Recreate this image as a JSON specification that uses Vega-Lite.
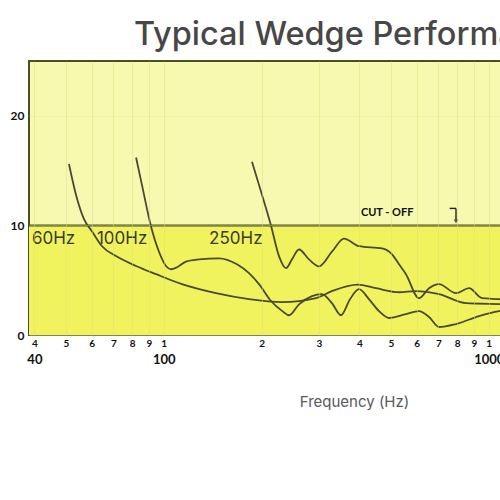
{
  "$schema": "https://vega.github.io/schema/vega-lite/v6.json",
  "title": {
    "text": "Typical Wedge Performance",
    "font": "Inter",
    "fontSize": 32.5,
    "fontWeight": 500,
    "color": "#474747",
    "frame": "group",
    "anchor": "middle",
    "offset": 10
  },
  "width": 650,
  "height": 274,
  "padding": {"left": 10, "top": 18, "right": 5, "bottom": 5},
  "background": "white",
  "view": {"fill": "#f6f9b0", "stroke": "#4b4f22", "strokeWidth": 2},
  "datasets": {
    "curves": [
      {"series": "60Hz", "freq": 51.1, "level": 15.6},
      {"series": "60Hz", "freq": 53.7, "level": 12.8},
      {"series": "60Hz", "freq": 56.8, "level": 10.6},
      {"series": "60Hz", "freq": 60.2, "level": 9.45},
      {"series": "60Hz", "freq": 64.6, "level": 8.1},
      {"series": "60Hz", "freq": 71.3, "level": 7.2},
      {"series": "60Hz", "freq": 82.2, "level": 6.3},
      {"series": "60Hz", "freq": 94.7, "level": 5.55},
      {"series": "60Hz", "freq": 113.8, "level": 4.64},
      {"series": "60Hz", "freq": 144.8, "level": 3.82},
      {"series": "60Hz", "freq": 183, "level": 3.27},
      {"series": "60Hz", "freq": 231, "level": 3.0},
      {"series": "60Hz", "freq": 294, "level": 3.36},
      {"series": "60Hz", "freq": 329, "level": 4.0},
      {"series": "60Hz", "freq": 395, "level": 4.6},
      {"series": "60Hz", "freq": 450, "level": 4.27},
      {"series": "60Hz", "freq": 530, "level": 3.9},
      {"series": "60Hz", "freq": 597, "level": 4.0},
      {"series": "60Hz", "freq": 703, "level": 3.73},
      {"series": "60Hz", "freq": 852, "level": 2.9},
      {"series": "60Hz", "freq": 1076, "level": 2.82},
      {"series": "60Hz", "freq": 1150, "level": 2.8},
      {"series": "100Hz", "freq": 82.2, "level": 16.2},
      {"series": "100Hz", "freq": 85.7, "level": 13.7},
      {"series": "100Hz", "freq": 91.4, "level": 9.9},
      {"series": "100Hz", "freq": 96.7, "level": 7.6},
      {"series": "100Hz", "freq": 101.6, "level": 6.3},
      {"series": "100Hz", "freq": 105.3, "level": 6.0},
      {"series": "100Hz", "freq": 109.9, "level": 6.18},
      {"series": "100Hz", "freq": 117.1, "level": 6.7},
      {"series": "100Hz", "freq": 128.4, "level": 6.9},
      {"series": "100Hz", "freq": 147.9, "level": 7.0},
      {"series": "100Hz", "freq": 168, "level": 6.45},
      {"series": "100Hz", "freq": 183, "level": 5.64},
      {"series": "100Hz", "freq": 196.4, "level": 4.64},
      {"series": "100Hz", "freq": 213.8, "level": 3.1},
      {"series": "100Hz", "freq": 231.2, "level": 2.2},
      {"series": "100Hz", "freq": 242.9, "level": 1.8},
      {"series": "100Hz", "freq": 260.8, "level": 2.8},
      {"series": "100Hz", "freq": 285.9, "level": 3.55},
      {"series": "100Hz", "freq": 306.8, "level": 3.73},
      {"series": "100Hz", "freq": 329.3, "level": 2.9},
      {"series": "100Hz", "freq": 351.1, "level": 1.8},
      {"series": "100Hz", "freq": 374.3, "level": 3.27},
      {"series": "100Hz", "freq": 398.9, "level": 4.18},
      {"series": "100Hz", "freq": 428, "level": 3.27},
      {"series": "100Hz", "freq": 459.6, "level": 2.18},
      {"series": "100Hz", "freq": 493.6, "level": 1.55},
      {"series": "100Hz", "freq": 556.3, "level": 1.9},
      {"series": "100Hz", "freq": 610.2, "level": 2.18},
      {"series": "100Hz", "freq": 655.3, "level": 1.64},
      {"series": "100Hz", "freq": 703, "level": 0.73},
      {"series": "100Hz", "freq": 793, "level": 1.0},
      {"series": "100Hz", "freq": 933.7, "level": 1.73},
      {"series": "100Hz", "freq": 1076, "level": 2.18},
      {"series": "100Hz", "freq": 1150, "level": 2.3},
      {"series": "250Hz", "freq": 186.9, "level": 15.8},
      {"series": "250Hz", "freq": 199.2, "level": 13.1},
      {"series": "250Hz", "freq": 213.8, "level": 10.0},
      {"series": "250Hz", "freq": 226.3, "level": 7.2},
      {"series": "250Hz", "freq": 237.8, "level": 6.1},
      {"series": "250Hz", "freq": 248.1, "level": 6.9},
      {"series": "250Hz", "freq": 260.8, "level": 7.8},
      {"series": "250Hz", "freq": 279.9, "level": 6.9},
      {"series": "250Hz", "freq": 300.4, "level": 6.27},
      {"series": "250Hz", "freq": 329.3, "level": 7.6},
      {"series": "250Hz", "freq": 358.7, "level": 8.8},
      {"series": "250Hz", "freq": 398.9, "level": 8.1},
      {"series": "250Hz", "freq": 469.7, "level": 7.9},
      {"series": "250Hz", "freq": 504.1, "level": 7.36},
      {"series": "250Hz", "freq": 529.7, "level": 6.45},
      {"series": "250Hz", "freq": 556.3, "level": 5.55},
      {"series": "250Hz", "freq": 610.2, "level": 3.36},
      {"series": "250Hz", "freq": 655.3, "level": 4.27},
      {"series": "250Hz", "freq": 703.1, "level": 4.64},
      {"series": "250Hz", "freq": 793.1, "level": 3.82},
      {"series": "250Hz", "freq": 869.8, "level": 4.27},
      {"series": "250Hz", "freq": 953.8, "level": 3.36},
      {"series": "250Hz", "freq": 1076, "level": 3.27},
      {"series": "250Hz", "freq": 1150, "level": 3.2}
    ],
    "labels": [
      {"text": "60Hz", "freq": 39.3, "level": 8.8},
      {"text": "100Hz", "freq": 62.3, "level": 8.8},
      {"text": "250Hz", "freq": 137.9, "level": 8.8}
    ],
    "arrow": [
      {"freq": 758, "freq2": 793, "level": 11.55, "level2": 11.55},
      {"freq": 793, "freq2": 793, "level": 11.55, "level2": 10.5}
    ]
  },
  "resolve": {"axis": {"x": "independent"}},
  "layer": [
    {
      "data": {"values": [{"lo": 0, "hi": 10}]},
      "mark": {"type": "rect", "color": "#f0f25e"},
      "encoding": {
        "y": {"field": "lo", "type": "quantitative", "scale": {"domain": [0, 25], "nice": false},
          "axis": {"values": [0, 10, 20], "title": null, "domain": false, "ticks": false, "tickSize": 0, "grid": true,
            "gridColor": "#e2e88e", "gridOpacity": 0.35,
            "labelFont": "Lato", "labelFontWeight": "bold", "labelFontSize": 12, "labelColor": "#111",
            "labelPadding": 5, "zindex": 1}},
        "y2": {"field": "hi"}
      }
    },
    {
      "data": {"name": "curves"},
      "mark": {"type": "line", "interpolate": "monotone", "color": "#4a4a32", "strokeWidth": 1.8},
      "encoding": {
        "x": {"field": "freq", "type": "quantitative",
          "scale": {"type": "log", "domain": [38.5, 3850], "nice": false},
          "axis": {"orient": "bottom", "title": null, "values": [40, 50, 60, 70, 80, 90, 100, 200, 300, 400, 500, 600, 700, 800, 900, 1000, 2000, 3000],
            "labelExpr": "substring(toString(datum.value), 0, 1)",
            "domain": false, "ticks": false, "tickSize": 0, "grid": true, "gridColor": "#d8e07a", "gridOpacity": 0.45,
            "labelFont": "Lato", "labelFontWeight": "bold", "labelFontSize": 10, "labelColor": "#111",
            "labelPadding": 3, "labelFlush": false, "labelOverlap": false, "zindex": 1}},
        "y": {"field": "level", "type": "quantitative"},
        "detail": {"field": "series"}
      }
    },
    {
      "data": {"values": [{"level": 10}]},
      "mark": {"type": "rule", "color": "#4b4f22", "strokeWidth": 2},
      "encoding": {"y": {"field": "level", "type": "quantitative"}}
    },
    {
      "data": {"name": "labels"},
      "mark": {"type": "text", "align": "left", "baseline": "middle", "font": "Inter", "fontSize": 17, "color": "#3b3b2c"},
      "encoding": {
        "x": {"field": "freq", "type": "quantitative", "axis": null},
        "y": {"field": "level", "type": "quantitative"},
        "text": {"field": "text"}
      }
    },
    {
      "data": {"values": [{"text": "CUT - OFF", "freq": 487, "level": 11.1}]},
      "mark": {"type": "text", "align": "center", "baseline": "middle", "font": "Lato", "fontWeight": "bold", "fontSize": 11, "color": "#111"},
      "encoding": {
        "x": {"field": "freq", "type": "quantitative", "axis": null},
        "y": {"field": "level", "type": "quantitative"},
        "text": {"field": "text"}
      }
    },
    {
      "data": {"values": [{"freq": 793, "level": 10.35}]},
      "mark": {"type": "point", "shape": "triangle-down", "filled": true, "size": 22, "color": "#222"},
      "encoding": {
        "x": {"field": "freq", "type": "quantitative", "axis": null},
        "y": {"field": "level", "type": "quantitative"}
      }
    },
    {
      "data": {"name": "arrow"},
      "mark": {"type": "rule", "color": "#222", "strokeWidth": 1.4},
      "encoding": {
        "x": {"field": "freq", "type": "quantitative",
          "axis": {"orient": "bottom", "title": "Frequency (Hz)", "values": [40, 100, 1000], "offset": 16,
            "labelExpr": "toString(datum.value)", "domain": false, "ticks": false, "tickSize": 0, "grid": false,
            "labelFont": "Lato", "labelFontWeight": "bold", "labelFontSize": 13, "labelColor": "#111",
            "labelPadding": 2, "labelFlush": false,
            "titleFont": "Inter", "titleFontWeight": "normal", "titleFontSize": 15, "titleColor": "#58585e",
            "titlePadding": 28}},
        "x2": {"field": "freq2"},
        "y": {"field": "level", "type": "quantitative"},
        "y2": {"field": "level2"}
      }
    }
  ]
}
